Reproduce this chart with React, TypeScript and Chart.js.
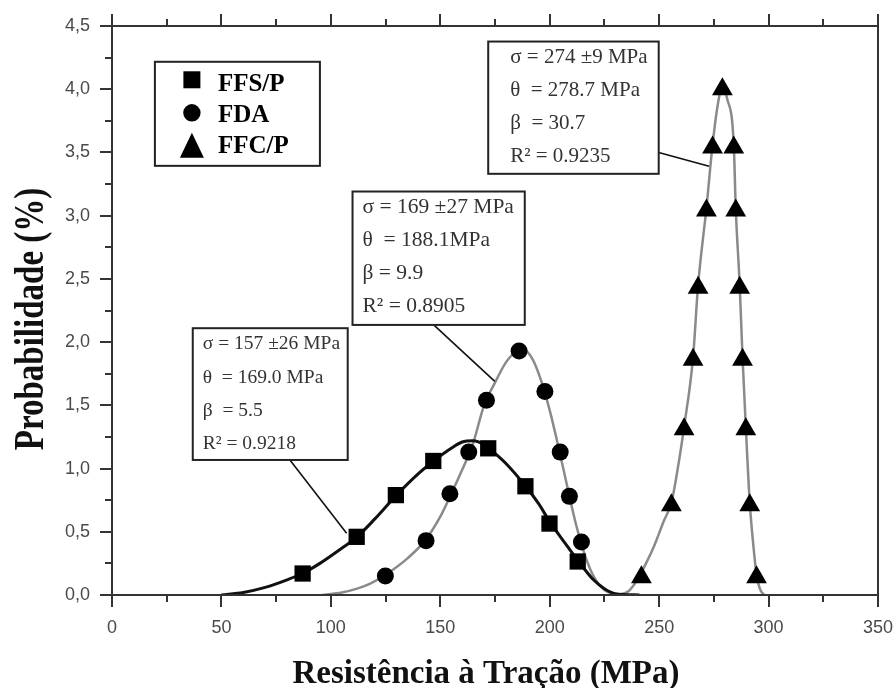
import React, { useEffect, useRef } from 'react';
import { Chart, registerables } from 'chart.js';

Chart.register(...registerables);

// ---- Data ----
// Marker series
const ffsX = [87.1, 111.8, 129.7, 146.8, 171.9, 188.9, 199.9, 212.8];
const ffsY = [0.17, 0.46, 0.79, 1.06, 1.16, 0.86, 0.565, 0.265];

const fdaX = [124.9, 143.5, 154.4, 163.0, 171.1, 186.0, 197.8, 204.8, 209.0, 214.5];
const fdaY = [0.15, 0.43, 0.80, 1.13, 1.54, 1.93, 1.61, 1.13, 0.78, 0.42];

const ffcX = [241.9, 255.6, 261.4, 265.5, 267.8, 271.6, 274.4, 278.9, 284.1, 285.0, 286.8, 288.1, 289.6, 291.4, 294.5];
const ffcY = [0.14, 0.71, 1.31, 1.86, 2.43, 3.04, 3.54, 4.0, 3.54, 3.04, 2.43, 1.86, 1.31, 0.71, 0.14];

// Fitted (Weibull) curves
const ffsCurveX = [50, 60, 70, 80, 87, 95, 105, 112, 120, 130, 140, 147, 155, 160, 165, 170, 175, 180, 189, 195, 200, 207, 213, 220, 225, 230, 241];
const ffsCurveY = [0, 0.02, 0.06, 0.12, 0.17, 0.25, 0.37, 0.46, 0.6, 0.79, 0.96, 1.06, 1.16, 1.21, 1.22, 1.19, 1.12, 1.04, 0.86, 0.72, 0.58, 0.41, 0.27, 0.12, 0.05, 0.01, 0];

const fdaCurveX = [96, 105, 112, 118, 125, 135, 143, 150, 155, 160, 165, 170, 175, 180, 185, 188, 192, 196, 200, 204, 208, 212, 216, 220, 225, 231];
const fdaCurveY = [0, 0.02, 0.05, 0.09, 0.16, 0.29, 0.43, 0.62, 0.8, 0.99, 1.2, 1.5, 1.68, 1.84, 1.93, 1.94, 1.87, 1.7, 1.46, 1.17, 0.86, 0.56, 0.32, 0.15, 0.04, 0];

const ffcCurveX = [231, 236, 240, 244, 248, 252, 255.6, 258.5, 261.4, 265.5, 267.8, 271.6, 274.4, 277, 278.9, 281, 284.1, 285.0, 286.8, 288.1, 289.6, 291.4, 293, 294.5, 296, 298];
const ffcCurveY = [0, 0.03, 0.12, 0.25, 0.4, 0.58, 0.73, 1.0, 1.33, 1.88, 2.45, 3.06, 3.56, 3.9, 4.03, 3.93, 3.56, 3.06, 2.45, 1.88, 1.33, 0.73, 0.4, 0.16, 0.05, 0];

// Axis ticks
const xMin = 0, xMax = 350, xStep = 50, xMinorStep = 25;
const yMin = 0, yMax = 4.5, yStep = 0.5, yMinorStep = 0.25;

// Text
const xTitle = 'Resistência à Tração (MPa)';
const yTitle = 'Probabilidade (%)';
const legendLabels = ['FFS/P', 'FDA', 'FFC/P'];
const boxFFC = ['σ = 274 ±9 MPa', 'θ  = 278.7 MPa', 'β  = 30.7', 'R² = 0.9235'];
const boxFDA = ['σ = 169 ±27 MPa', 'θ  = 188.1MPa', 'β = 9.9', 'R² = 0.8905'];
const boxFFS = ['σ = 157 ±26 MPa', 'θ  = 169.0 MPa', 'β  = 5.5', 'R² = 0.9218'];

const zip = (xs: number[], ys: number[]) => xs.map((x, i) => ({ x, y: ys[i] }));

// Annotation placements in data coordinates
const annotations = [
  { lines: boxFFC, x0: 171.9, y0: 4.377, x1: 249.8, y1: 3.331, indent: 22, size: 21, from: [249.8, 3.5], to: [272.8, 3.39] },
  { lines: boxFDA, x0: 109.9, y0: 3.191, x1: 188.6, y1: 2.136, indent: 10, size: 21.5, from: [147.0, 2.136], to: [174.9, 1.69] },
  { lines: boxFFS, x0: 36.9, y0: 2.11, x1: 107.7, y1: 1.068, indent: 10, size: 19.5, from: [81.3, 1.068], to: [107.2, 0.488] },
];
const legendBox = { x0: 19.6, y0: 4.217, x1: 95, y1: 3.394 };

const FRAME = '#333333';

const decorPlugin = {
  id: 'decor',
  afterDatasetsDraw(chart: any) {
    const { ctx } = chart;
    const xs = chart.scales.x;
    const ys = chart.scales.y;
    const px = (v: number) => xs.getPixelForValue(v);
    const py = (v: number) => ys.getPixelForValue(v);

    ctx.save();
    // leader lines
    ctx.strokeStyle = '#111';
    ctx.lineWidth = 1.6;
    for (const a of annotations) {
      ctx.beginPath();
      ctx.moveTo(px(a.from[0]), py(a.from[1]));
      ctx.lineTo(px(a.to[0]), py(a.to[1]));
      ctx.stroke();
    }
    // annotation boxes
    for (const a of annotations) {
      const l = px(a.x0), t = py(a.y0), r = px(a.x1), b = py(a.y1);
      ctx.fillStyle = '#fff';
      ctx.fillRect(l, t, r - l, b - t);
      ctx.strokeStyle = '#222';
      ctx.lineWidth = 2;
      ctx.strokeRect(l, t, r - l, b - t);
      ctx.fillStyle = '#333';
      ctx.font = `${a.size}px "Liberation Serif", "Times New Roman", serif`;
      ctx.textAlign = 'left';
      ctx.textBaseline = 'alphabetic';
      a.lines.forEach((s, i) => ctx.fillText(s, l + a.indent, t + 21 + i * 33.3));
    }
    // legend
    {
      const l = px(legendBox.x0), t = py(legendBox.y0), r = px(legendBox.x1), b = py(legendBox.y1);
      ctx.fillStyle = '#fff';
      ctx.fillRect(l, t, r - l, b - t);
      ctx.strokeStyle = '#222';
      ctx.lineWidth = 2;
      ctx.strokeRect(l, t, r - l, b - t);
      const mx = l + 37;
      ctx.fillStyle = '#000';
      ctx.fillRect(mx - 8.5, t + 9.5, 17, 17);
      ctx.beginPath();
      ctx.arc(mx, t + 51, 8.7, 0, Math.PI * 2);
      ctx.fill();
      ctx.beginPath();
      ctx.moveTo(mx, t + 71);
      ctx.lineTo(mx + 12, t + 96);
      ctx.lineTo(mx - 12, t + 96);
      ctx.closePath();
      ctx.fill();
      ctx.font = 'bold 25px "Liberation Serif", "Times New Roman", serif';
      ctx.textAlign = 'left';
      ctx.textBaseline = 'alphabetic';
      const tx = l + 63;
      ctx.fillText(legendLabels[0], tx, t + 29.5);
      ctx.fillText(legendLabels[1], tx, t + 60);
      ctx.fillText(legendLabels[2], tx, t + 91);
    }
    ctx.restore();
  },
  afterDraw(chart: any) {
    const { ctx, chartArea: ca } = chart;
    const xs = chart.scales.x;
    const ys = chart.scales.y;
    ctx.save();
    ctx.strokeStyle = FRAME;
    ctx.lineWidth = 2;
    ctx.strokeRect(ca.left, ca.top, ca.right - ca.left, ca.bottom - ca.top);
    ctx.beginPath();
    for (let v = xMin; v <= xMax + 1e-9; v += xMinorStep) {
      const p = Math.round(xs.getPixelForValue(v));
      const major = Math.abs(v / xStep - Math.round(v / xStep)) < 1e-6;
      const len = major ? 12 : 7;
      ctx.moveTo(p, ca.bottom);
      ctx.lineTo(p, ca.bottom + len);
      ctx.moveTo(p, ca.top);
      ctx.lineTo(p, ca.top - len);
    }
    for (let v = yMin; v <= yMax + 1e-9; v += yMinorStep) {
      const p = Math.round(ys.getPixelForValue(v));
      const major = Math.abs(v / yStep - Math.round(v / yStep)) < 1e-6;
      const len = major ? 12 : 7;
      ctx.moveTo(ca.left, p);
      ctx.lineTo(ca.left - len, p);
    }
    ctx.stroke();

    // axis titles
    ctx.fillStyle = '#111';
    ctx.font = 'bold 33px "Liberation Serif", "Times New Roman", serif';
    ctx.textAlign = 'center';
    ctx.textBaseline = 'alphabetic';
    ctx.fillText(xTitle, 486, 683);

    ctx.translate(43, 319);
    ctx.rotate(-Math.PI / 2);
    ctx.scale(1, 1.25);
    ctx.fillText(yTitle, 0, 0);
    ctx.restore();
  },
};

export default function App() {
  const ref = useRef<HTMLCanvasElement | null>(null);

  useEffect(() => {
    if (!ref.current) return;
    const markerBase = { showLine: false, borderWidth: 0, backgroundColor: '#000', borderColor: '#000' };
    const curveBase = { showLine: true, pointRadius: 0, cubicInterpolationMode: 'monotone' as const, fill: false };
    const chart = new Chart(ref.current, {
      type: 'scatter',
      data: {
        datasets: [
          { ...markerBase, label: 'FFS/P', data: zip(ffsX, ffsY), pointStyle: 'rect', pointRadius: 11.5 },
          { ...markerBase, label: 'FDA', data: zip(fdaX, fdaY), pointStyle: 'circle', pointRadius: 8.5 },
          { ...markerBase, label: 'FFC/P', data: zip(ffcX, ffcY), pointStyle: 'triangle', pointRadius: 12 },
          { ...curveBase, label: 'FFS/P fit', data: zip(ffsCurveX, ffsCurveY), borderColor: '#111', borderWidth: 3 },
          { ...curveBase, label: 'FDA fit', data: zip(fdaCurveX, fdaCurveY), borderColor: '#8a8a8a', borderWidth: 2.5 },
          { ...curveBase, label: 'FFC/P fit', data: zip(ffcCurveX, ffcCurveY), borderColor: '#8a8a8a', borderWidth: 2.5 },
        ] as any,
      },
      options: {
        responsive: false,
        animation: false,
        devicePixelRatio: 1,
        layout: { padding: { top: 26, right: 17, left: 0, bottom: 0 } },
        plugins: { legend: { display: false }, tooltip: { enabled: false }, title: { display: false } },
        scales: {
          x: {
            type: 'linear',
            min: xMin,
            max: xMax,
            grid: { display: false, drawTicks: false },
            border: { display: false },
            ticks: {
              stepSize: xStep,
              padding: 22,
              color: '#4a4a4a',
              font: { family: '"Liberation Sans", Arial, sans-serif', size: 18 },
              maxRotation: 0,
              callback: (v: any) => String(v),
            },
            afterFit: (s: any) => { s.height = 93; s.paddingLeft = 0; s.paddingRight = 0; },
          },
          y: {
            type: 'linear',
            min: yMin,
            max: yMax,
            grid: { display: false, drawTicks: false },
            border: { display: false },
            ticks: {
              stepSize: yStep,
              padding: 22,
              color: '#4a4a4a',
              font: { family: '"Liberation Sans", Arial, sans-serif', size: 18 },
              callback: (v: any) => Number(v).toFixed(1).replace('.', ','),
            },
            afterFit: (s: any) => { s.width = 112; s.paddingTop = 0; s.paddingBottom = 0; },
          },
        },
      },
      plugins: [decorPlugin],
    });
    return () => chart.destroy();
  }, []);

  return (
    <div style={{ position: 'absolute', left: 0, top: 0, width: 895, height: 688, background: '#fff' }}>
      <canvas ref={ref} width={895} height={688} style={{ display: 'block' }} />
    </div>
  );
}
